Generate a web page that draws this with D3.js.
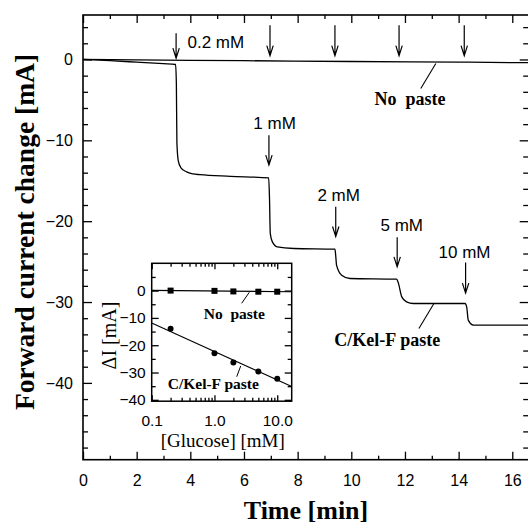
<!DOCTYPE html>
<html><head><meta charset="utf-8">
<script src="https://cdn.jsdelivr.net/npm/d3@7"></script>
<style>
html,body{margin:0;padding:0;background:#fff;}
svg{display:block;}
</style></head>
<body>
<svg id="chart" width="528" height="527"></svg>
<script>
// ---- Main chart data ----
const timeMin = [0, 1, 2, 3, 3.45, 3.48, 3.5, 3.55, 3.65, 3.86, 4.1, 4.36, 5.5, 6.92, 6.95, 6.98, 7.05, 7.24, 7.86, 9.39, 9.42, 9.45, 9.64, 9.95, 11.69, 11.75, 11.88, 12.06, 12.31, 14.24, 14.3, 14.36, 14.55, 16.65];
const kelFCurrent = [0, -0.15, -0.33, -0.52, -0.62, -3, -10.3, -12.5, -13.4, -13.9, -14.15, -14.25, -14.45, -14.65, -17, -21.5, -22.5, -23.18, -23.38, -23.46, -24.3, -25.44, -26.68, -27.09, -27.17, -27.6, -29.36, -29.98, -30.18, -30.18, -30.6, -32.24, -32.86, -32.86];
const noPasteTime = [0, 2, 6, 10, 14, 16.65];
const noPasteCurrent = [0, -0.05, -0.15, -0.25, -0.33, -0.4];

const xMajorTicks = [0, 2, 4, 6, 8, 10, 12, 14, 16];
const xMinorTicks = [1, 3, 5, 7, 9, 11, 13, 15];
const yMajorTicks = [0, -10, -20, -30, -40];
const yMinorTicks = [4, 2, -2, -4, -6, -8, -12, -14, -16, -18, -22, -24, -26, -28, -32, -34, -36, -38, -42, -44, -46, -48];

// injection arrows (C/Kel-F)
const arrowTime = [3.47, 6.93, 9.42, 11.71, 14.26];
const arrowTop = [3.25, -9.36, -18.2, -22.0, -25.1];
const arrowTip = [0.16, -13.06, -21.9, -25.65, -28.9];
const arrowLabels = ["0.2 mM", "1 mM", "2 mM", "5 mM", "10 mM"];
const arrowLabelTime = [4.95, 7.14, 9.53, 11.88, 14.22];
const arrowLabelCurrent = [2.18, -7.9, -16.8, -20.5, -23.8];
// injection arrows (No paste)
const upperArrowTime = [6.97, 9.39, 11.78, 14.21];
const upperArrowTop = 4.24;
const upperArrowTip = 0.47;

// curve labels
const curveLabels = ["No  paste", "C/Kel-F paste"];
const curveLabelTime = [12.19, 11.34];
const curveLabelCurrent = [-4.85, -34.6];
const leaderTime = [[12.59, 13.15], [12.52, 13.08]];
const leaderCurrent = [[-3.58, -0.5], [-33.27, -30.18]];

// ---- Inset data ----
const glucose = [0.2, 1, 2, 5, 10];
const dINoPaste = [0, -0.1, -0.3, -0.4, -0.4];
const dIKelF = [-14.0, -22.9, -26.3, -29.6, -32.3];
const fitGlucose = [0.1, 17];
const fitNoPaste = [0.1, -0.4];
const fitKelF = [-11.9, -35.1];
const insetXLabels = [0.1, 1, 10];
const insetXMinor = [0.2,0.3,0.4,0.5,0.6,0.7,0.8,0.9,2,3,4,5,6,7,8,9];
const insetYMajor = [0, -10, -20, -30, -40];
const insetYMinor = [5, -5, -15, -25, -35];
const insetLabelGlucose = [2.07, 0.957];
const insetLabelDI = [-8.3, -33.95];
const insetLeaderGlucose = [[2.71, 3.59], [2.26, 2.62]];
const insetLeaderDI = [[-4.65, -0.62], [-31.53, -27.6]];

// ---- Drawing ----
const svg = d3.select("#chart");
const SANS = "'Liberation Sans', Arial, sans-serif";
const SERIF = "'Liberation Serif', 'Times New Roman', serif";

const L = 83, T = 15, B = 459.7;
const pxPerMin = 26.83;
const R = L + 16.65 * pxPerMin;
const x = d3.scaleLinear().domain([0, 16.65]).range([L, R]);
const y = d3.scaleLinear().domain([-49.5, 5.5]).range([B, T]);

function styleAxis(g, fs) {
  g.select(".domain").remove();
  g.selectAll(".tick line").attr("stroke", "#000").attr("stroke-width", 1.3);
  g.selectAll(".tick text").attr("font-family", SANS).attr("font-size", fs).attr("fill", "#000");
}

// main axes: ticks
svg.append("g").attr("transform", `translate(0,${B})`)
  .call(d3.axisBottom(x).tickValues(xMajorTicks).tickSizeInner(-8).tickSizeOuter(0).tickPadding(15).tickFormat(d3.format("d")))
  .call(g => styleAxis(g, 16));
svg.append("g").attr("transform", `translate(0,${B})`)
  .call(d3.axisBottom(x).tickValues(xMinorTicks).tickSizeInner(-4).tickSizeOuter(0).tickFormat(""))
  .call(g => styleAxis(g, 16));
svg.append("g").attr("transform", `translate(0,${T})`)
  .call(d3.axisTop(x).tickValues(xMajorTicks).tickSizeInner(-8).tickSizeOuter(0).tickFormat(""))
  .call(g => styleAxis(g, 16));
svg.append("g").attr("transform", `translate(0,${T})`)
  .call(d3.axisTop(x).tickValues(xMinorTicks).tickSizeInner(-4).tickSizeOuter(0).tickFormat(""))
  .call(g => styleAxis(g, 16));
svg.append("g").attr("transform", `translate(${L},0)`)
  .call(d3.axisLeft(y).tickValues(yMajorTicks).tickSizeInner(-9).tickSizeOuter(0).tickPadding(10).tickFormat(d3.format("d")))
  .call(g => styleAxis(g, 16));
svg.append("g").attr("transform", `translate(${L},0)`)
  .call(d3.axisLeft(y).tickValues(yMinorTicks).tickSizeInner(-5).tickSizeOuter(0).tickFormat(""))
  .call(g => styleAxis(g, 16));
svg.append("g").attr("transform", `translate(${R},0)`)
  .call(d3.axisRight(y).tickValues(yMajorTicks).tickSizeInner(-10).tickSizeOuter(0).tickFormat(""))
  .call(g => styleAxis(g, 16));
svg.append("g").attr("transform", `translate(${R},0)`)
  .call(d3.axisRight(y).tickValues(yMinorTicks).tickSizeInner(-6.5).tickSizeOuter(0).tickFormat(""))
  .call(g => styleAxis(g, 16));

// frame
svg.append("rect").attr("x", L).attr("y", T).attr("width", R - L).attr("height", B - T)
  .attr("fill", "none").attr("stroke", "#000").attr("stroke-width", 1.6);

// curves
const line = d3.line().x(d => x(d[0])).y(d => y(d[1])).curve(d3.curveMonotoneX);
svg.append("path").datum(noPasteTime.map((t, i) => [t, noPasteCurrent[i]]))
  .attr("d", line).attr("fill", "none").attr("stroke", "#000").attr("stroke-width", 1.3);
svg.append("path").datum(timeMin.map((t, i) => [t, kelFCurrent[i]]))
  .attr("d", line).attr("fill", "none").attr("stroke", "#000").attr("stroke-width", 1.3);

// arrows
function arrow(t, yTop, yTip) {
  const px = x(t), p1 = y(yTop), p2 = y(yTip);
  svg.append("path")
    .attr("d", `M${px},${p1}L${px},${p2}M${px - 3.2},${p2 - 10}L${px},${p2}L${px + 3.2},${p2 - 10}`)
    .attr("fill", "none").attr("stroke", "#000").attr("stroke-width", 1.2);
}
arrowTime.forEach((t, i) => arrow(t, arrowTop[i], arrowTip[i]));
upperArrowTime.forEach(t => arrow(t, upperArrowTop, upperArrowTip));
svg.selectAll("text.arrowlabel").data(arrowLabels).join("text")
  .attr("class", "arrowlabel")
  .attr("x", (d, i) => x(arrowLabelTime[i]))
  .attr("y", (d, i) => y(arrowLabelCurrent[i]))
  .attr("dy", "0.36em").attr("text-anchor", "middle")
  .attr("font-family", SANS).attr("font-size", 17).text(d => d);

// curve labels and leaders
svg.selectAll("text.curvelabel").data(curveLabels).join("text")
  .attr("class", "curvelabel")
  .attr("x", (d, i) => x(curveLabelTime[i]))
  .attr("y", (d, i) => y(curveLabelCurrent[i]))
  .attr("dy", "0.35em").attr("text-anchor", "middle")
  .attr("font-family", SERIF).attr("font-weight", "bold").attr("font-size", 18)
  .style("white-space", "pre").text(d => d);
leaderTime.forEach((lt, i) => {
  svg.append("line").attr("x1", x(lt[0])).attr("x2", x(lt[1]))
    .attr("y1", y(leaderCurrent[i][0])).attr("y2", y(leaderCurrent[i][1]))
    .attr("stroke", "#000").attr("stroke-width", 1.1);
});

// axis titles
svg.append("text").attr("x", 306).attr("y", 519).attr("text-anchor", "middle")
  .attr("font-family", SERIF).attr("font-weight", "bold").attr("font-size", 26).text("Time [min]");
svg.append("text").attr("transform", "translate(34,232) rotate(-90)").attr("text-anchor", "middle")
  .attr("font-family", SERIF).attr("font-weight", "bold").attr("font-size", 27.5).text("Forward current change [mA]");

// ---- Inset ----
const iL = 151.7, iR = 291.7, iT = 263.3, iB = 401.2;
const ix = d3.scaleLog().domain([0.1, 17]).range([iL, iR]);
const iy = d3.scaleLinear().domain([-40.5, 10]).range([iB, iT]);
svg.append("rect").attr("x", iL).attr("y", iT).attr("width", iR - iL).attr("height", iB - iT)
  .attr("fill", "#fff");

svg.append("g").attr("transform", `translate(0,${iB})`)
  .call(d3.axisBottom(ix).tickValues(insetXLabels).tickSizeInner(-6).tickSizeOuter(0).tickPadding(14).tickFormat(d3.format(".1f")))
  .call(g => styleAxis(g, 15.5));
svg.append("g").attr("transform", `translate(0,${iB})`)
  .call(d3.axisBottom(ix).tickValues(insetXMinor).tickSizeInner(-3.5).tickSizeOuter(0).tickFormat(""))
  .call(g => styleAxis(g, 15));
svg.append("g").attr("transform", `translate(0,${iT})`)
  .call(d3.axisTop(ix).tickValues(insetXLabels).tickSizeInner(-6).tickSizeOuter(0).tickFormat(""))
  .call(g => styleAxis(g, 15));
svg.append("g").attr("transform", `translate(0,${iT})`)
  .call(d3.axisTop(ix).tickValues(insetXMinor).tickSizeInner(-3.5).tickSizeOuter(0).tickFormat(""))
  .call(g => styleAxis(g, 15));
svg.append("g").attr("transform", `translate(${iL},0)`)
  .call(d3.axisLeft(iy).tickValues(insetYMajor).tickSizeInner(-7).tickSizeOuter(0).tickPadding(6).tickFormat(d3.format("d")))
  .call(g => styleAxis(g, 15.5));
svg.append("g").attr("transform", `translate(${iL},0)`)
  .call(d3.axisLeft(iy).tickValues(insetYMinor).tickSizeInner(-4).tickSizeOuter(0).tickFormat(""))
  .call(g => styleAxis(g, 15));
svg.append("g").attr("transform", `translate(${iR},0)`)
  .call(d3.axisRight(iy).tickValues(insetYMajor).tickSizeInner(-7).tickSizeOuter(0).tickFormat(""))
  .call(g => styleAxis(g, 15));
svg.append("g").attr("transform", `translate(${iR},0)`)
  .call(d3.axisRight(iy).tickValues(insetYMinor).tickSizeInner(-4).tickSizeOuter(0).tickFormat(""))
  .call(g => styleAxis(g, 15));

svg.append("rect").attr("x", iL).attr("y", iT).attr("width", iR - iL).attr("height", iB - iT)
  .attr("fill", "none").attr("stroke", "#000").attr("stroke-width", 1.5);

const iline = d3.line().x(d => ix(d[0])).y(d => iy(d[1]));
svg.append("path").datum(fitGlucose.map((g, i) => [g, fitNoPaste[i]]))
  .attr("d", iline).attr("stroke", "#000").attr("stroke-width", 1.1).attr("fill", "none");
svg.append("path").datum(fitGlucose.map((g, i) => [g, fitKelF[i]]))
  .attr("d", iline).attr("stroke", "#000").attr("stroke-width", 1.1).attr("fill", "none");

svg.selectAll("rect.sq").data(glucose).join("rect").attr("class", "sq")
  .attr("x", (d) => ix(d) - 3).attr("y", (d, i) => iy(dINoPaste[i]) - 3)
  .attr("width", 6).attr("height", 6).attr("fill", "#000");
svg.selectAll("circle.dot").data(glucose).join("circle").attr("class", "dot")
  .attr("cx", d => ix(d)).attr("cy", (d, i) => iy(dIKelF[i])).attr("r", 3).attr("fill", "#000");

svg.selectAll("text.insetlabel").data(curveLabels).join("text")
  .attr("class", "insetlabel")
  .attr("x", (d, i) => ix(insetLabelGlucose[i]))
  .attr("y", (d, i) => iy(insetLabelDI[i]))
  .attr("dy", "0.35em").attr("text-anchor", "middle")
  .attr("font-family", SERIF).attr("font-weight", "bold").attr("font-size", 15.5)
  .style("white-space", "pre").text(d => d);
insetLeaderGlucose.forEach((lg, i) => {
  svg.append("line").attr("x1", ix(lg[0])).attr("x2", ix(lg[1]))
    .attr("y1", iy(insetLeaderDI[i][0])).attr("y2", iy(insetLeaderDI[i][1]))
    .attr("stroke", "#000").attr("stroke-width", 1);
});

svg.append("text").attr("x", 222.8).attr("y", 447).attr("text-anchor", "middle")
  .attr("font-family", SERIF).attr("font-size", 19).text("[Glucose] [mM]");
svg.append("text").attr("transform", "translate(116,335.5) rotate(-90)").attr("text-anchor", "middle")
  .attr("font-family", SERIF).attr("font-size", 20).text("ΔI [mA]");
</script>
</body></html>
